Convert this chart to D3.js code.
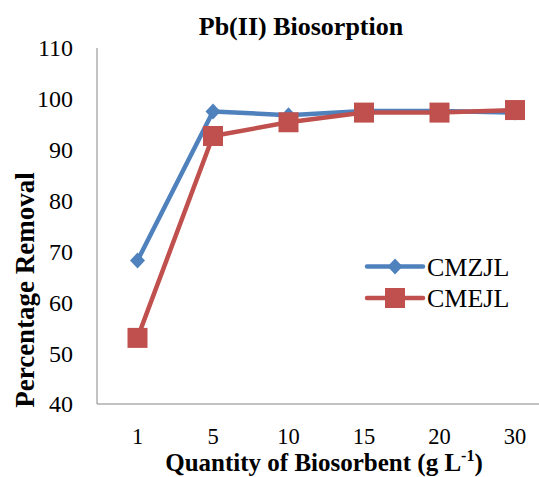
<!DOCTYPE html>
<html>
<head>
<meta charset="utf-8">
<script src="https://cdn.jsdelivr.net/npm/d3@7/dist/d3.min.js"></script>
<style>
body { margin: 0; background: #fff; }
svg { display: block; }
</style>
</head>
<body>
<svg id="chart" width="539" height="477"></svg>
<script>
const categories = ["1", "5", "10", "15", "20", "30"];
const cmzjl = [68.2, 97.5, 96.8, 97.6, 97.6, 97.3];
const cmejl = [53.0, 92.7, 95.4, 97.3, 97.3, 97.8];
const yTicks = [40, 50, 60, 70, 80, 90, 100, 110];
const seriesNames = ["CMZJL", "CMEJL"];
const colors = ["#4F81BD", "#C0504D"];

(function () {
const FONT = "'Liberation Serif', 'Times New Roman', Times, serif";
const svg = d3.select("#chart").attr("font-family", FONT);
const pL = 97, pR = 539, pT = 48, pB = 404;

const x = d3.scalePoint().domain(categories).range([137.5, 515]);
const y = d3.scaleLinear().domain([40, 110]).range([pB, pT]);

// axes lines
svg.append("line").attr("x1", pL).attr("x2", pL).attr("y1", pT).attr("y2", pB)
  .attr("stroke", "#868686").attr("stroke-width", 1);
svg.append("line").attr("x1", pL).attr("x2", pR).attr("y1", pB).attr("y2", pB)
  .attr("stroke", "#868686").attr("stroke-width", 1);

// y tick labels
svg.selectAll(".ytl").data(yTicks).enter().append("text")
  .attr("font-family", FONT)
  .attr("x", 73).attr("y", d => y(d)).attr("dy", "0.35em")
  .attr("text-anchor", "end").attr("font-size", 24).text(d => d);

// x tick labels
svg.selectAll(".xtl").data(categories).enter().append("text")
  .attr("font-family", FONT)
  .attr("x", d => x(d)).attr("y", 444)
  .attr("text-anchor", "middle").attr("font-size", 22.5).text(d => d);

// title
svg.append("text").attr("font-family", FONT).attr("x", 301).attr("y", 35).attr("text-anchor", "middle")
  .attr("font-size", 26).attr("font-weight", "bold").text("Pb(II) Biosorption");

// y title
svg.append("text").attr("font-family", FONT).attr("transform", "translate(34,290) rotate(-90)")
  .attr("text-anchor", "middle").attr("font-size", 27).attr("font-weight", "bold")
  .text("Percentage Removal");

// x title
const xt = svg.append("text").attr("font-family", FONT).attr("x", 324).attr("y", 471).attr("text-anchor", "middle")
  .attr("font-size", 25).attr("font-weight", "bold");
xt.append("tspan").text("Quantity of Biosorbent (g L");
xt.append("tspan").attr("font-size", 16).attr("dy", -10).text("-1");
xt.append("tspan").attr("dy", 10).text(")");

const line = d3.line().x((d, i) => x(categories[i])).y(d => y(d));
const allSeries = [cmzjl, cmejl];

function marker(g, type, cx, cy, color) {
  if (type === 0) {
    g.append("path").attr("d", `M${cx},${cy-8}L${cx+7.5},${cy}L${cx},${cy+8}L${cx-7.5},${cy}Z`)
      .attr("fill", color);
  } else {
    g.append("rect").attr("x", cx - 10).attr("y", cy - 10).attr("width", 20).attr("height", 20)
      .attr("fill", color);
  }
}

allSeries.forEach((vals, s) => {
  const g = svg.append("g");
  g.append("path").datum(vals).attr("d", line).attr("fill", "none")
    .attr("stroke", colors[s]).attr("stroke-width", 4.5).attr("stroke-linejoin", "round");
  vals.forEach((v, i) => marker(g, s, x(categories[i]), y(v), colors[s]));
});

// legend
const legY = [266.5, 298];
seriesNames.forEach((name, s) => {
  const g = svg.append("g");
  g.append("line").attr("x1", 367).attr("x2", 423).attr("y1", legY[s]).attr("y2", legY[s])
    .attr("stroke", colors[s]).attr("stroke-width", 4.5).attr("stroke-linecap", "round");
  marker(g, s, 395, legY[s], colors[s]);
  g.append("text").attr("font-family", FONT).attr("x", 427).attr("y", legY[s]).attr("dy", "0.35em")
    .attr("font-size", 26).text(name);
});
})();
</script>
</body>
</html>
